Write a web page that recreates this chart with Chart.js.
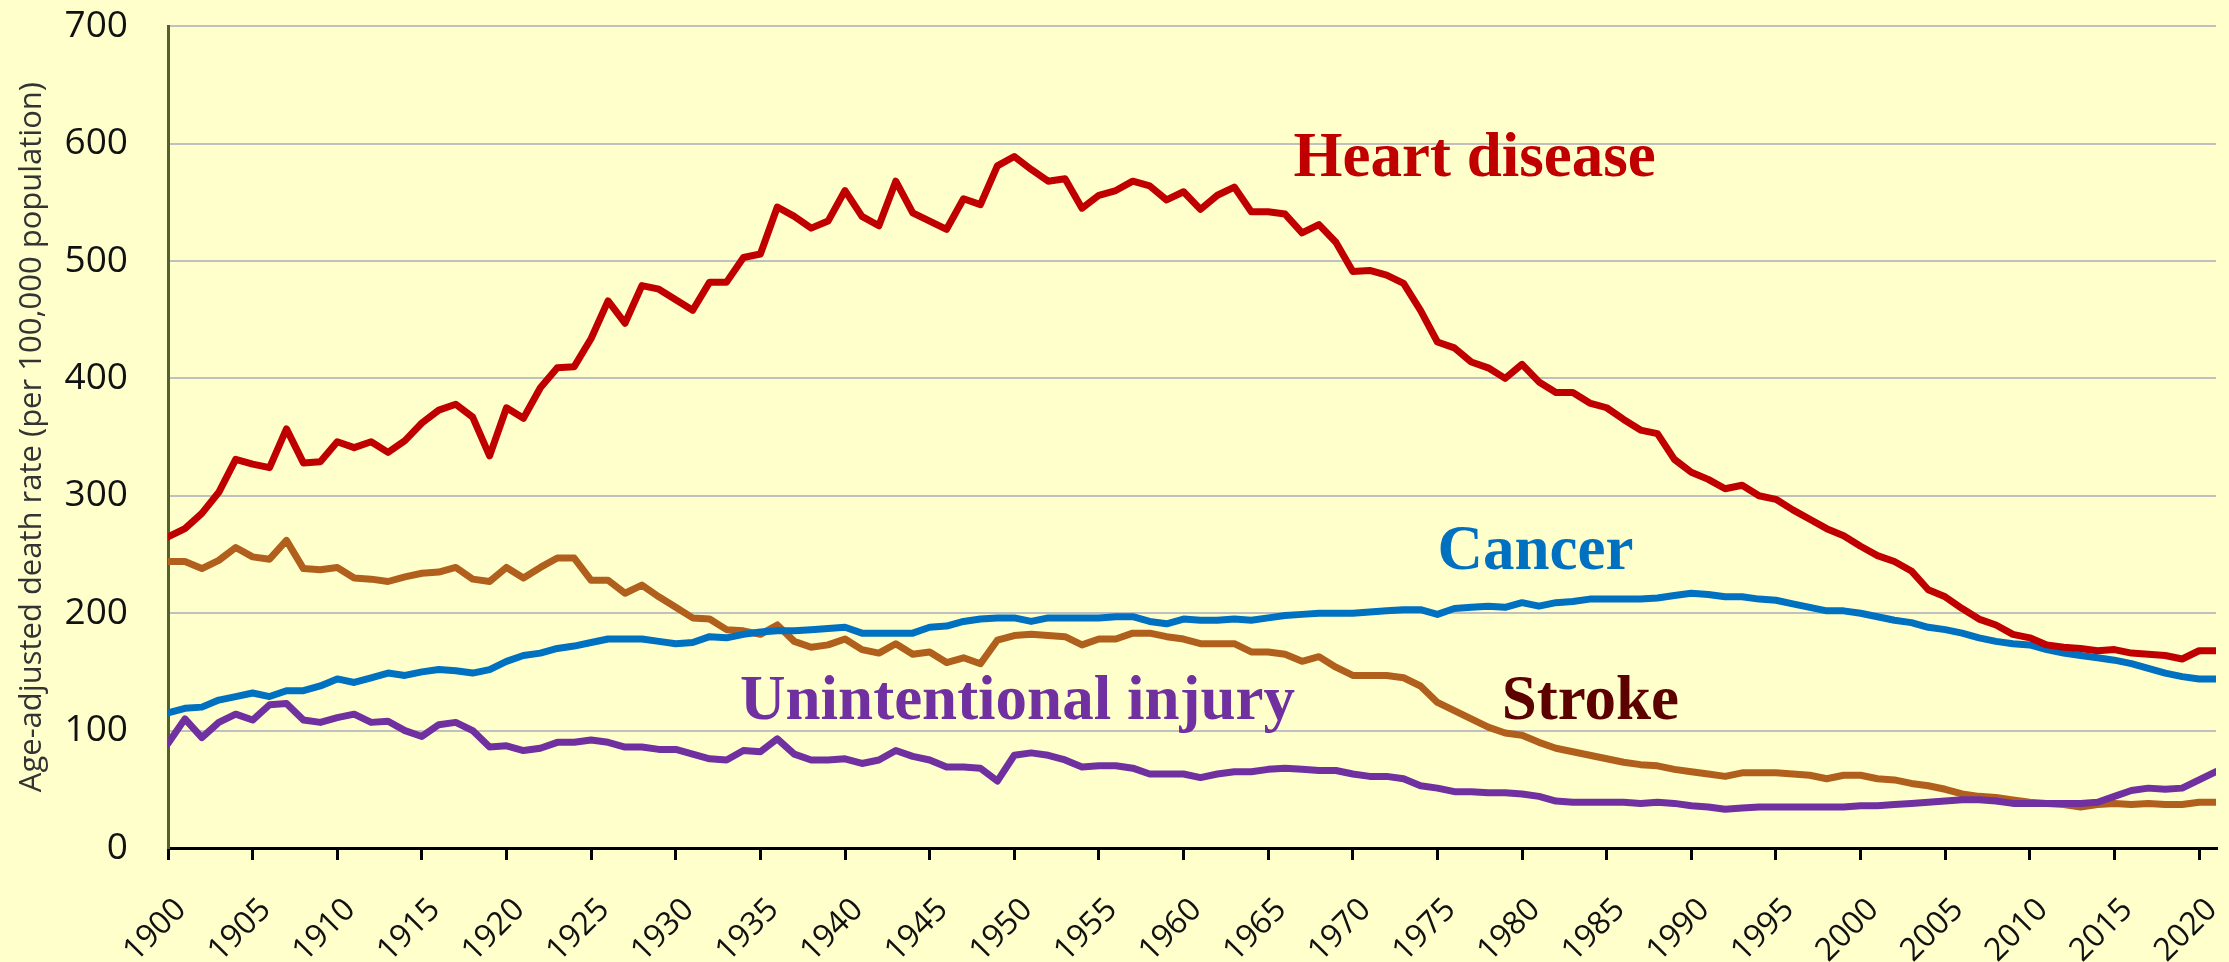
<!DOCTYPE html>
<html>
<head>
<meta charset="utf-8">
<script src="https://cdn.jsdelivr.net/npm/chart.js@4.4.1/dist/chart.umd.min.js"></script>
<style>
  html, body { margin: 0; padding: 0; background: #FFFFCC; }
  #wrap { width: 2229px; height: 962px; position: relative; }
</style>
</head>
<body>
<div id="wrap"><canvas id="grafico"></canvas></div>
<script>
// years 1900..2021
var anos = Array.from({length: 122}, function(_, i){ return 1900 + i; });

var doencaCardiaca = [
  265, 272, 285, 303, 331, 327, 324, 357, 328, 329,
  346, 341, 346, 337, 347, 362, 373, 378, 367, 334,
  375, 366, 392, 409, 410, 434, 466, 447, 479, 476,
  467, 458, 482, 482, 503, 506, 546, 538, 528, 534,
  560, 538, 530, 568, 541, 534, 527, 553, 548, 581,
  589, 578, 568, 570, 545, 556, 560, 568, 564, 552,
  559, 544, 556, 563, 542, 542, 540, 524, 531, 516,
  491, 492, 488, 481, 458, 431, 426, 414, 409, 400,
  412, 397, 388, 388, 379, 375, 365, 356, 353, 331,
  320, 314, 306, 309, 300, 297, 288, 280, 272, 266,
  257, 249, 244, 236, 220, 214, 204, 195, 190, 182,
  179, 173, 171, 170, 168, 169, 166, 165, 164, 161,
  168, 168
];

var cancer = [
  115, 119, 120, 126, 129, 132, 129, 134, 134, 138,
  144, 141, 145, 149, 147, 150, 152, 151, 149, 152,
  159, 164, 166, 170, 172, 175, 178, 178, 178, 176,
  174, 175, 180, 179, 182, 184, 185, 185, 186, 187,
  188, 183, 183, 183, 183, 188, 189, 193, 195, 196,
  196, 193, 196, 196, 196, 196, 197, 197, 193, 191,
  195, 194, 194, 195, 194, 196, 198, 199, 200, 200,
  200, 201, 202, 203, 203, 199, 204, 205, 206, 205,
  209, 206, 209, 210, 212, 212, 212, 212, 213, 215,
  217, 216, 214, 214, 212, 211, 208, 205, 202, 202,
  200, 197, 194, 192, 188, 186, 183, 179, 176, 174,
  173, 169, 166, 164, 162, 160, 157, 153, 149, 146,
  144, 144
];

var derrame = [
  244, 244, 238, 245, 256, 248, 246, 262, 238, 237,
  239, 230, 229, 227, 231, 234, 235, 239, 229, 227,
  239, 230, 239, 247, 247, 228, 228, 217, 224, 214,
  205, 196, 195, 186, 185, 182, 190, 176, 171, 173,
  178, 169, 166, 174, 165, 167, 158, 162, 157, 177,
  181, 182, 181, 180, 173, 178, 178, 183, 183, 180,
  178, 174, 174, 174, 167, 167, 165, 159, 163, 154,
  147, 147, 147, 145, 138, 124, 117, 110, 103, 98,
  96, 90, 85, 82, 79, 76, 73, 71, 70, 67,
  65, 63, 61, 64, 64, 64, 63, 62, 59, 62,
  62, 59, 58, 55, 53, 50, 46, 44, 43, 41,
  39, 38, 37, 35, 37, 38, 37, 38, 37, 37,
  39, 39
];

var lesaoAcidental = [
  89, 110, 94, 107, 114, 109, 122, 123, 109, 107,
  111, 114, 107, 108, 100, 95, 105, 107, 100, 86,
  87, 83, 85, 90, 90, 92, 90, 86, 86, 84,
  84, 80, 76, 75, 83, 82, 93, 80, 75, 75,
  76, 72, 75, 83, 78, 75, 69, 69, 68, 57,
  79, 81, 79, 75, 69, 70, 70, 68, 63, 63,
  63, 60, 63, 65, 65, 67, 68, 67, 66, 66,
  63, 61, 61, 59, 53, 51, 48, 48, 47, 47,
  46, 44, 40, 39, 39, 39, 39, 38, 39, 38,
  36, 35, 33, 34, 35, 35, 35, 35, 35, 35,
  36, 36, 37, 38, 39, 40, 41, 41, 40, 38,
  38, 38, 38, 38, 39, 44, 49, 51, 50, 51,
  58, 65
];

var nomes = ['Heart disease', 'Cancer', 'Unintentional injury', 'Stroke'];

// where each series name sits (year, value at text baseline)
var rotulos = [
  {texto: 'Heart disease', ano: 1966.5, valor: 572, cor: '#C00000'},
  {texto: 'Cancer', ano: 1975.0, valor: 238, cor: '#0070C0'},
  {texto: 'Unintentional injury', ano: 1933.8, valor: 110, cor: '#7030A0'},
  {texto: 'Stroke', ano: 1978.8, valor: 110, cor: '#5C0000'}
];

function pontos(serie){
  var p = [];
  for(var i=0;i<anos.length;i++){
    p.push({x: anos[i], y: serie[i]});
  }
  return p;
}

var pluginRotulos = {
  id: 'rotulos',
  afterDatasetsDraw: function(chart){
    var ctx = chart.ctx;
    ctx.save();
    ctx.font = 'bold 63px "Liberation Serif", "Times New Roman", serif';
    ctx.textAlign = 'left';
    ctx.textBaseline = 'alphabetic';
    for(var i=0;i<rotulos.length;i++){
      ctx.fillStyle = rotulos[i].cor;
      ctx.fillText(rotulos[i].texto,
        chart.scales.x.getPixelForValue(rotulos[i].ano),
        chart.scales.y.getPixelForValue(rotulos[i].valor));
    }
    ctx.restore();
  }
};

Chart.defaults.font.family = "'Open Sans', 'Noto Sans', sans-serif";

function linha(label, serie, cor){
  return {
    label: label,
    data: pontos(serie),
    borderColor: cor,
    backgroundColor: cor,
    borderWidth: 7,
    pointRadius: 0,
    tension: 0,
    borderJoinStyle: 'round',
    borderCapStyle: 'round'
  };
}

var grafico = new Chart('grafico', {
  type: 'line',
  data: {
    datasets: [
      linha(nomes[0], doencaCardiaca, '#C00000'),
      linha(nomes[1], cancer, '#0070C0'),
      linha(nomes[2], lesaoAcidental, '#7030A0'),
      linha(nomes[3], derrame, '#B0601C')
    ]
  },
  options: {
    responsive: true,
    maintainAspectRatio: false,
    animation: false,
    layout: { padding: {top: 0, right: 13, bottom: 0, left: 0} },
    plugins: { legend: {display: false}, tooltip: {enabled: false} },
    scales: {
      x: {
        type: 'linear',
        min: 1900,
        max: 2021,
        ticks: {
          stepSize: 5,
          includeBounds: false,
          autoSkip: false,
          minRotation: 45,
          maxRotation: 45,
          padding: 31,
          labelOffset: 13,
          color: '#111',
          font: {size: 32},
          callback: function(v){ return String(v); }
        },
        grid: { drawOnChartArea: false, drawTicks: true, tickLength: 12, color: '#000', lineWidth: 3 },
        border: { color: '#000', width: 3 },
        afterFit: function(s){ s.height = 114; s.paddingRight = 0; s.paddingLeft = 0; }
      },
      y: {
        min: 0,
        max: 700,
        ticks: { stepSize: 100, padding: 4, color: '#111', font: {size: 37} },
        grid: { color: '#C0C0C0', lineWidth: 2, drawTicks: true, tickLength: 36, tickColor: 'rgba(0,0,0,0)' },
        border: { color: '#4F6228', width: 3 },
        title: {
          display: true,
          text: 'Age-adjusted death rate (per 100,000 population)',
          color: '#333',
          font: {size: 31},
          padding: {top: 14, bottom: 0}
        },
        afterFit: function(s){ s.width = 168; }
      }
    }
  },
  plugins: [pluginRotulos]
});
</script>
</body>
</html>
